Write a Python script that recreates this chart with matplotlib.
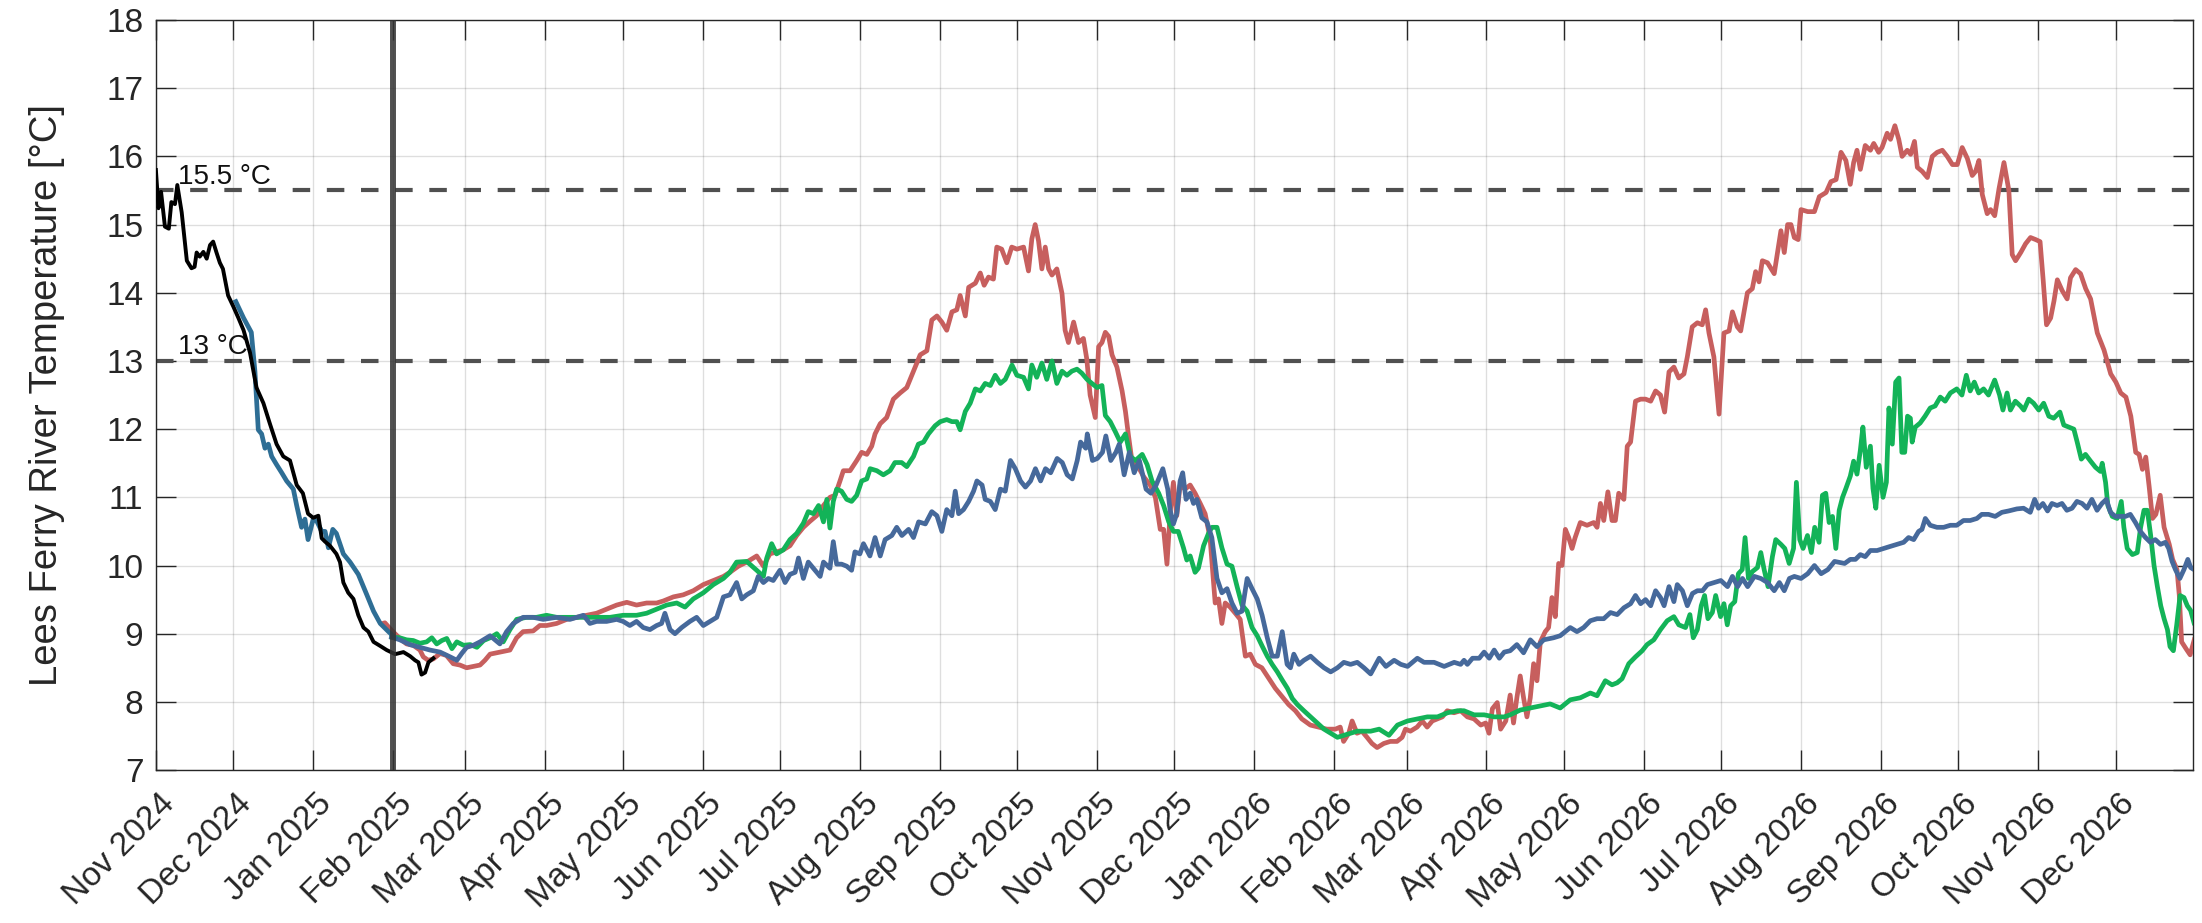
import numpy as np
import pandas as pd
import matplotlib
matplotlib.use('Agg')
import matplotlib.pyplot as plt
import matplotlib.dates as mdates
from matplotlib.transforms import ScaledTranslation

plt.rcParams['font.family'] = ['Liberation Sans', 'DejaVu Sans']

# days counted from 1 Nov 2024, temperatures in deg C
start = pd.Timestamp('2024-11-01')

obs_day = [0, 1, 2, 3.5, 5, 6, 7.4, 8.3, 10, 12, 13.8, 15, 15.8, 17, 18.4, 19.7, 21, 22.2, 23.5, 24.8,
           26, 28, 30, 32, 34, 36.5, 39, 41.7, 44.2, 46.8, 49.4, 52, 54.6, 57, 59, 61, 63, 64.3, 65.6,
           67.5, 70, 71.4, 72.7, 74.6, 76.6, 78.5, 80.5, 82.4, 84.4, 87, 89.5, 92.8, 96, 98.6, 100.5,
           101.8, 103, 104.4, 105.7, 107.6]
obs_temp = [15.8, 15.24, 15.48, 14.97, 14.94, 15.33, 15.3, 15.58, 15.18, 14.47, 14.36, 14.38, 14.59,
            14.53, 14.6, 14.5, 14.7, 14.75, 14.59, 14.44, 14.35, 13.96, 13.8, 13.63, 13.45, 13.12,
            12.61, 12.38, 12.08, 11.78, 11.6, 11.54, 11.18, 11.06, 10.76, 10.7, 10.73, 10.4, 10.35,
            10.29, 10.17, 10.05, 9.75, 9.6, 9.51, 9.27, 9.09, 9.03, 8.88, 8.82, 8.76, 8.7, 8.73,
            8.67, 8.61, 8.58, 8.4, 8.43, 8.58, 8.64]

prev_day = [31, 34, 37, 38.4, 39.7, 41, 42.3, 43.6, 44.9, 46.8, 48.8, 50.7, 53.3, 54.6, 56.5, 57.8,
            59, 61, 62.4, 64.3, 65.6, 66.9, 68.6, 70, 72.7, 75.3, 78.5, 81.8, 84.4, 87, 90.2, 92.8]
prev_temp = [13.87, 13.63, 13.42, 12.85, 11.99, 11.93, 11.72, 11.78, 11.6, 11.48, 11.36, 11.24,
             11.12, 10.88, 10.56, 10.68, 10.38, 10.68, 10.65, 10.5, 10.5, 10.26, 10.53, 10.47,
             10.17, 10.05, 9.87, 9.57, 9.33, 9.15, 9.03, 8.94]

red_day = [88, 88.8, 91.4, 94.6, 97.2, 99.8, 102.4, 103.7, 105.6, 107.6, 110.2, 112.7, 115.3, 117.9,
           120.5, 123.1, 125.7, 127.6, 129.6, 133.4, 137.3, 139.9, 142.4, 146.3, 148.9, 151.5, 155.4,
           159.3, 163.2, 167, 170.9, 174.8, 178.7, 182.6, 186.4, 190.3, 194.2, 196.8, 200.7, 204.5,
           208.4, 212.3, 216.2, 220.1, 222.6, 225.9, 229.1, 233, 235.6, 238.1, 240.7, 243.3, 245.9,
           248.5, 251.1, 253.7, 256.2, 258.9, 261.4, 263.4, 265.3, 266.6, 269.2, 271.8, 273.7, 275.7,
           277.6, 278.9, 280.9, 283.4, 286, 288.6, 291.2, 293.8, 296.4, 299, 300.9, 302.9, 304.8,
           306.7, 308.7, 310.6, 311.9, 313.9, 315.2, 317.8, 319.7, 321.2, 322.9, 324.8, 326.1, 328,
           330, 331.9, 333.9, 336.5, 338.4, 339.7, 341, 342.3, 343.6, 344.9, 346.2, 347.5, 349.4,
           351.4, 352.6, 353.9, 355.9, 357.8, 359.7, 361, 362.3, 364.3, 365.6, 366.9, 368.2, 369.5,
           370.8, 372.7, 374.7, 376, 377.2, 378.5, 380.5, 383.1, 385.6, 387.6, 389.5, 390.8, 392.1,
           393.4, 394.6, 395.9, 397.2, 399.1, 401.1, 403, 405, 406.9, 408.8, 410.8, 412.1, 413.4,
           414.7, 416.6, 418.6, 420.5, 422.5, 424.4, 426.4, 428.9, 431.5, 434.1, 436.7, 439.3, 441.9,
           444.4, 447.7, 450.9, 454.1, 457.4, 459.3, 460.6, 462.6, 463.9, 465.8, 467.7, 469.7, 471.6,
           473.6, 476.2, 478.7, 481.3, 483.3, 484.6, 486.5, 489.1, 491.1, 493, 495, 496.9, 498.9,
           500.8, 503.4, 506, 508.6, 511.2, 513.8, 515.7, 517, 518.3, 520.2, 521.5, 523.5, 525.2,
           526.5, 527.8, 529.1, 530.4, 531.7, 533, 534.3, 535.6, 536.9, 538.8, 540.1, 541.4, 542.7,
           544, 545.3, 546.6, 547.9, 549.2, 550.4, 552.4, 555, 557.6, 558.9, 560.2, 561.5, 563.1,
           564.7, 566, 567.3, 569.3, 570.6, 571.9, 573.8, 575.8, 577.7, 579.7, 581.6, 583.5, 585.1,
           586.8, 588.7, 590.6, 592.6, 593.9, 595.8, 597.8, 599.7, 601, 602.3, 604.2, 606.2, 608.1,
           610.1, 611.4, 613.3, 614.6, 615.9, 617.2, 619.1, 620.4, 621.7, 623, 625, 627.6, 628.9,
           630.2, 631.5, 632.8, 634.1, 635.4, 636.9, 638, 640.6, 643.2, 645.1, 647.7, 649.6, 651.6,
           653.5, 655.4, 657.1, 658.4, 659.7, 661, 662.9, 664.9, 666.2, 668.1, 669.4, 671.4, 672.7,
           674.4, 675.9, 677.2, 679.2, 680.5, 682, 683.1, 685, 687, 688.9, 690.8, 692.8, 694.7,
           696.7, 698.6, 700.5, 702.5, 704.4, 705.7, 707, 708.3, 710.2, 711.5, 713.1, 714.8, 716.7,
           718.6, 719.9, 721.2, 723.2, 725.1, 727, 729, 730.7, 731.9, 733.2, 734.8, 736.1, 737.4,
           739.3, 741.2, 742.5, 744.5, 746.4, 748.4, 750.3, 752.9, 755.5, 758.1, 760.1, 762, 764,
           765.9, 767.8, 769.1, 770.4, 771.7, 773, 774.3, 775.6, 777.3, 778.8, 780.8, 782.1, 783.8,
           784.7, 785.6, 787.3, 788.9, 790.5]
red_temp = [9.15, 9.16, 9.05, 8.93, 8.85, 8.83, 8.76, 8.66, 8.61, 8.63, 8.71, 8.68, 8.56, 8.54, 8.5,
            8.52, 8.54, 8.61, 8.7, 8.73, 8.76, 8.94, 9.03, 9.04, 9.12, 9.12, 9.15, 9.21, 9.24, 9.27,
            9.3, 9.36, 9.42, 9.46, 9.42, 9.45, 9.45, 9.48, 9.54, 9.57, 9.63, 9.72, 9.78, 9.84, 9.9,
            9.99, 10.05, 10.14, 9.99, 10.17, 10.2, 10.23, 10.29, 10.44, 10.56, 10.65, 10.73, 10.88,
            11.0, 11.03, 11.24, 11.39, 11.39, 11.54, 11.66, 11.63, 11.75, 11.93, 12.08, 12.17, 12.44,
            12.53, 12.61, 12.85, 13.09, 13.15, 13.6, 13.66, 13.57, 13.45, 13.72, 13.75, 13.96, 13.66,
            14.08, 14.14, 14.29, 14.11, 14.23, 14.2, 14.67, 14.64, 14.44, 14.67, 14.64, 14.67, 14.32,
            14.79, 15.0, 14.76, 14.35, 14.67, 14.35, 14.26, 14.35, 13.99, 13.45, 13.27, 13.57, 13.27,
            13.33, 13.03, 12.5, 12.17, 13.21, 13.27, 13.42, 13.36, 13.09, 12.91, 12.56, 12.26, 11.9,
            11.54, 11.48, 11.3, 11.18, 11.0, 10.53, 10.53, 10.02, 10.8, 11.22, 10.73, 11.18, 11.12,
            11.18, 11.06, 10.91, 10.76, 10.41, 9.45, 9.51, 9.15, 9.45, 9.39, 9.3, 9.21, 8.67, 8.7,
            8.55, 8.5, 8.35, 8.2, 8.08, 7.96, 7.87, 7.75, 7.66, 7.63, 7.6, 7.6, 7.63, 7.42, 7.54,
            7.72, 7.54, 7.57, 7.48, 7.39, 7.33, 7.39, 7.42, 7.42, 7.48, 7.6, 7.57, 7.63, 7.72, 7.63,
            7.72, 7.75, 7.78, 7.87, 7.84, 7.87, 7.78, 7.75, 7.66, 7.69, 7.54, 7.9, 7.99, 7.6, 7.72,
            8.1, 7.69, 8.06, 8.38, 8.06, 7.78, 8.06, 8.56, 8.31, 8.88, 9.03, 9.09, 9.53, 9.25, 10.03,
            10.0, 10.53, 10.41, 10.25, 10.41, 10.63, 10.59, 10.63, 10.56, 10.91, 10.66, 11.08, 10.66,
            10.66, 11.06, 10.97, 11.75, 11.81, 12.41, 12.44, 12.44, 12.41, 12.56, 12.5, 12.25, 12.84,
            12.91, 12.75, 12.81, 13.06, 13.5, 13.56, 13.53, 13.75, 13.41, 13.06, 12.22, 13.41, 13.44,
            13.72, 13.5, 13.44, 13.72, 14.0, 14.06, 14.31, 14.16, 14.47, 14.44, 14.28, 14.59, 14.91,
            14.59, 15.0, 15.0, 14.81, 14.78, 15.22, 15.19, 15.19, 15.41, 15.47, 15.63, 15.66, 16.06,
            15.94, 15.59, 15.91, 16.09, 15.81, 16.16, 16.09, 16.19, 16.06, 16.13, 16.34, 16.25, 16.45,
            16.25, 16.0, 16.09, 16.03, 16.22, 15.84, 15.78, 15.69, 16.0, 16.06, 16.09, 16.0, 15.88,
            15.88, 16.13, 15.97, 15.72, 15.78, 15.94, 15.44, 15.16, 15.22, 15.13, 15.53, 15.91, 15.5,
            14.56, 14.47, 14.59, 14.72, 14.81, 14.78, 14.75, 14.19, 13.53, 13.63, 13.88, 14.19, 14.03,
            13.91, 14.22, 14.34, 14.28, 14.06, 13.91, 13.41, 13.16, 12.81, 12.69, 12.53, 12.47, 12.19,
            11.66, 11.63, 11.41, 11.59, 11.16, 10.69, 10.75, 11.03, 10.56, 10.31, 10.09, 9.94, 9.56,
            8.88, 8.78, 8.69, 8.91]

green_day = [91.4, 94.6, 97.2, 99.8, 102.4, 105, 107, 108.9, 110.9, 112.8, 114.8, 116.7, 119.3, 121.9,
             124.5, 127.1, 129.6, 132.2, 134.7, 137.3, 139.9, 143.7, 147.6, 151.5, 155.4, 160.6,
             165.8, 170.9, 176.1, 181.2, 186.4, 190.3, 194.2, 198.1, 202, 205.2, 208.4, 212.3, 216.2,
             220.1, 222.6, 225.2, 229.1, 233, 235.6, 236.9, 238.8, 240.7, 243.3, 245.9, 248.5, 251.1,
             253, 255, 257, 258.9, 260.2, 261.4, 262.7, 264, 265.9, 267.9, 269.8, 271.8, 273.7, 275.7,
             277, 279.6, 282.1, 284.7, 286.6, 289.2, 291.2, 293.8, 295.7, 297.7, 299.6, 302.2, 304.2,
             306.7, 308.7, 310.6, 311.9, 313.9, 315.8, 317.8, 319.7, 321.6, 323.6, 325.5, 327.5,
             329.4, 332, 333.9, 336.5, 338.4, 339.7, 341.6, 343.6, 345.5, 347.5, 349.4, 351.4, 353.3,
             355.2, 357.2, 359.1, 361.1, 363, 365, 366.9, 368.2, 370.1, 372.1, 374, 376, 377.9, 379.9,
             382.5, 384.4, 386.3, 388.9, 390.8, 392.8, 394.6, 396.5, 398.5, 399.8, 401.1, 403, 404.3,
             406.3, 408.2, 409.5, 411.5, 413.4, 415.4, 417.3, 419.3, 421.2, 423.2, 425.1, 427.1, 429,
             431, 432.9, 434.9, 436.8, 438.8, 440.7, 442.7, 445.2, 447.8, 450.4, 453, 455.6, 458.2,
             460.7, 463.3, 465.9, 468.5, 471.1, 474.4, 478.2, 481.5, 485.4, 489.3, 493.1, 497, 500.9,
             504.8, 507.3, 511.2, 515.1, 519, 522.9, 525.2, 529.1, 533, 536.9, 540.7, 544.6, 548.5,
             552.4, 556.3, 558.9, 562.1, 564.7, 566.7, 568.6, 571.2, 573.8, 576.4, 578.3, 580.9,
             583.5, 586.1, 588.7, 590.6, 593.2, 594.9, 596.2, 597.8, 599.3, 600.6, 601.9, 603.6,
             604.9, 606.8, 608.1, 609.4, 610.7, 612.3, 613.7, 615.2, 616.3, 617.6, 619.1, 621.1,
             622.4, 623.7, 625.2, 626.9, 628.2, 630.2, 631.7, 633.4, 635.1, 636.2, 637.5, 638.8,
             640.5, 642, 643.3, 645, 646.3, 647.6, 648.9, 650.2, 651.5, 652.8, 654.1, 655.4, 657.1,
             658.4, 659.7, 661, 662, 663.3, 664.9, 665.9, 667, 668.3, 669.8, 671.1, 672.1, 673.4,
             674.7, 676, 677.1, 678.2, 679.3, 680.4, 681.1, 682.3, 684.2, 686.1, 688.1, 690, 692,
             693.9, 695.9, 698.4, 700.4, 702.1, 703.6, 705.2, 706.9, 708.8, 710.7, 713.1, 715, 716.3,
             717.9, 719.2, 721.1, 723.1, 724.4, 726.3, 728.2, 730.2, 732.1, 734.1, 736, 738.4, 739.9,
             741.9, 743.8, 745.1, 746.7, 748.3, 750.3, 752.2, 754.1, 754.8, 756.1, 757, 758.7, 760.6,
             762.2, 763.2, 764.5, 766.5, 768.4, 769.7, 771, 772.3, 773.6, 774.9, 776.2, 777.5, 778.8,
             780.1, 781.1, 782.4, 783.7, 785, 786.5, 787.8, 789.1, 790.4]
green_temp = [8.95, 8.94, 8.91, 8.9, 8.86, 8.88, 8.94, 8.85, 8.9, 8.93, 8.78, 8.88, 8.83, 8.84, 8.8,
              8.9, 8.94, 9.0, 8.88, 9.06, 9.21, 9.24, 9.24, 9.27, 9.24, 9.24, 9.24, 9.24, 9.24, 9.27,
              9.27, 9.3, 9.36, 9.42, 9.45, 9.39, 9.51, 9.6, 9.72, 9.81, 9.9, 10.05, 10.06, 9.93, 9.84,
              10.11, 10.32, 10.17, 10.23, 10.38, 10.47, 10.62, 10.79, 10.76, 10.88, 10.64, 10.97,
              10.55, 10.94, 11.12, 11.09, 10.97, 10.94, 11.03, 11.24, 11.27, 11.42, 11.39, 11.33,
              11.39, 11.51, 11.51, 11.45, 11.6, 11.78, 11.81, 11.93, 12.05, 12.11, 12.14, 12.11,
              12.11, 11.99, 12.26, 12.38, 12.59, 12.56, 12.67, 12.64, 12.79, 12.67, 12.73, 12.94,
              12.79, 12.76, 12.59, 12.94, 12.76, 12.97, 12.73, 13.0, 12.67, 12.85, 12.79, 12.85,
              12.88, 12.82, 12.73, 12.67, 12.61, 12.64, 12.2, 12.11, 11.96, 11.81, 11.93, 11.6, 11.54,
              11.63, 11.48, 11.24, 11.06, 10.88, 10.64, 10.5, 10.5, 10.26, 10.08, 10.14, 9.9, 9.96,
              10.29, 10.47, 10.56, 10.56, 10.26, 10.02, 9.99, 9.69, 9.42, 9.33, 9.09, 8.97, 8.82,
              8.67, 8.55, 8.44, 8.32, 8.2, 8.05, 7.96, 7.87, 7.78, 7.69, 7.6, 7.54, 7.48, 7.51, 7.54,
              7.57, 7.57, 7.57, 7.6, 7.51, 7.66, 7.72, 7.75, 7.78, 7.78, 7.84, 7.87, 7.87, 7.81, 7.81,
              7.78, 7.78, 7.81, 7.88, 7.91, 7.94, 7.97, 7.91, 8.03, 8.06, 8.13, 8.09, 8.31, 8.25,
              8.28, 8.34, 8.56, 8.66, 8.75, 8.84, 8.91, 9.06, 9.19, 9.25, 9.13, 9.09, 9.28, 8.94,
              9.06, 9.41, 9.56, 9.22, 9.31, 9.56, 9.25, 9.44, 9.13, 9.41, 9.47, 9.88, 9.94, 10.41,
              9.81, 9.91, 9.97, 10.19, 9.94, 9.69, 10.13, 10.38, 10.31, 10.25, 10.03, 10.25, 11.22,
              10.38, 10.25, 10.44, 10.19, 10.56, 10.34, 11.03, 11.06, 10.63, 10.72, 10.25, 10.81,
              11.0, 11.13, 11.31, 11.53, 11.34, 11.69, 12.03, 11.44, 11.75, 11.13, 10.84, 11.47, 11.0,
              11.22, 12.31, 11.78, 12.69, 12.75, 11.66, 11.66, 12.19, 12.16, 11.81, 12.03, 12.09,
              12.19, 12.31, 12.34, 12.47, 12.41, 12.53, 12.59, 12.5, 12.79, 12.56, 12.69, 12.53,
              12.59, 12.5, 12.72, 12.5, 12.28, 12.53, 12.28, 12.41, 12.34, 12.28, 12.44, 12.38,
              12.28, 12.38, 12.19, 12.16, 12.25, 12.06, 12.03, 12.0, 11.81, 11.56, 11.63, 11.53,
              11.44, 11.38, 11.5, 11.22, 10.88, 10.72, 10.69, 10.94, 10.56, 10.25, 10.16, 10.19,
              10.56, 10.81, 10.81, 10.44, 10.0, 9.69, 9.41, 9.22, 9.06, 8.81, 8.75, 9.13, 9.56, 9.53,
              9.41, 9.34, 9.16]

blue_day = [91.4, 94.6, 98.5, 102.4, 106.3, 110.2, 114.1, 116.7, 118.6, 120.5, 123.1, 125.7, 128.3,
            129.6, 133.4, 136, 138.6, 142.4, 146.3, 150.2, 155.4, 160.6, 165.8, 168.3, 170.9, 174.8,
            178.7, 181.2, 183.8, 186.4, 189, 191.6, 194.2, 196.1, 197.4, 199.4, 201.3, 203.9, 207.1,
            209.7, 212.3, 214.9, 217.5, 220.1, 222.6, 225.2, 227.2, 229.1, 231.7, 233.6, 235.6,
            237.5, 239.4, 242, 244, 245.9, 247.9, 249.2, 251.1, 253, 255.6, 257.6, 258.9, 261.4,
            262.7, 264, 265.9, 267.9, 269.8, 271.1, 273, 274.4, 276.9, 278.9, 280.9, 282.8, 285.4,
            287.3, 289.3, 291.9, 293.8, 295.8, 298.4, 300.9, 302.9, 304.8, 306.7, 308.7, 310, 311.3,
            313.2, 315.2, 317.1, 318.4, 320.4, 321.6, 323.6, 325.5, 327.5, 329.4, 331.4, 333.3,
            335.3, 337.2, 339.2, 341.1, 343.1, 345, 347, 349.5, 351.5, 353.4, 355.4, 357.3, 358.6,
            360.6, 361.2, 363.2, 365.1, 367.1, 368.4, 370.3, 372.3, 373.6, 375.5, 377.5, 379.4,
            381.4, 384, 385.9, 387.9, 390.5, 392.4, 393.3, 394.6, 395.9, 397.2, 398.2, 399.5, 401.1,
            402.4, 403.7, 405.6, 407.6, 409.5, 411.5, 413.4, 415.4, 417.3, 419.3, 421.2, 423.2,
            425.1, 427.1, 429, 431, 432.9, 434.9, 436.8, 438.7, 440, 441.3, 443.3, 445.2, 447.8,
            450.4, 453, 455.6, 458.2, 460.7, 463.3, 465.9, 468.5, 471.1, 474.4, 477, 480.2, 482.8,
            485.4, 489.2, 491.8, 495.7, 499.6, 503.5, 506, 507.3, 508.6, 510.6, 513.2, 515.1, 517.1,
            519, 521, 522.9, 525.2, 527.8, 530.4, 533, 535.6, 538.2, 542, 544.6, 548.5, 551.1, 553.7,
            556.3, 558.9, 561.5, 564.1, 566.7, 569.3, 571.9, 573.8, 575.8, 577.7, 579.7, 581.6,
            583.5, 584.9, 586.8, 588.7, 590, 592, 593.9, 595.9, 597.8, 599.8, 601.7, 604.3, 606.9,
            609.5, 611.4, 613.4, 615.3, 617.3, 619.9, 622.4, 625, 627.6, 629.6, 631.5, 633.5, 635.4,
            638, 640.6, 643.2, 645.8, 648.4, 651, 654.9, 657.1, 659.1, 661, 662.9, 664.9, 667.5, 670,
            672.6, 675.2, 677.8, 679.7, 681.7, 683.6, 684.9, 686.2, 688.1, 690.7, 693.3, 695.9,
            698.4, 701, 703.6, 706.2, 708.1, 710.7, 713.3, 715.9, 718.5, 721.7, 724.3, 726.9, 728.6,
            730.1, 731.8, 733.6, 735.3, 737.3, 739.2, 741.1, 743.1, 745, 747, 748.9, 750.8, 752.8,
            754.7, 756.4, 758, 759.9, 761.8, 763.8, 765.7, 767.7, 769.6, 771.6, 773.5, 775.4, 777.4,
            779.3, 780.6, 781.9, 783.2, 784.9, 786.5, 788, 789.1, 790.4]
blue_temp = [8.95, 8.91, 8.84, 8.8, 8.76, 8.73, 8.66, 8.61, 8.71, 8.8, 8.83, 8.88, 8.94, 8.97, 8.85,
             9.03, 9.15, 9.24, 9.24, 9.21, 9.24, 9.21, 9.27, 9.15, 9.18, 9.18, 9.21, 9.18, 9.12, 9.18,
             9.09, 9.06, 9.12, 9.15, 9.3, 9.06, 9.0, 9.09, 9.18, 9.24, 9.12, 9.18, 9.24, 9.54, 9.57,
             9.75, 9.51, 9.57, 9.63, 9.84, 9.75, 9.81, 9.78, 9.93, 9.75, 9.87, 9.9, 10.11, 9.81,
             10.05, 9.93, 9.84, 10.05, 9.96, 10.35, 10.02, 10.02, 9.99, 9.93, 10.2, 10.17, 10.32,
             10.14, 10.41, 10.14, 10.38, 10.44, 10.56, 10.44, 10.53, 10.41, 10.64, 10.61, 10.79,
             10.73, 10.5, 10.82, 10.73, 11.09, 10.76, 10.82, 10.94, 11.09, 11.24, 11.18, 10.97, 10.94,
             10.82, 11.12, 11.09, 11.54, 11.42, 11.24, 11.15, 11.24, 11.42, 11.24, 11.42, 11.36,
             11.57, 11.51, 11.33, 11.27, 11.54, 11.81, 11.72, 11.93, 11.54, 11.57, 11.66, 11.9, 11.54,
             11.66, 11.78, 11.33, 11.66, 11.36, 11.54, 11.12, 11.06, 11.18, 11.42, 11.12, 10.82,
             10.61, 10.76, 11.24, 11.36, 10.97, 11.06, 10.91, 10.97, 10.7, 10.64, 10.41, 9.81, 9.6,
             9.66, 9.45, 9.3, 9.33, 9.81, 9.66, 9.51, 9.27, 8.94, 8.67, 8.67, 9.03, 8.55, 8.5, 8.7,
             8.55, 8.61, 8.67, 8.58, 8.5, 8.44, 8.5, 8.58, 8.55, 8.58, 8.5, 8.41, 8.64, 8.52, 8.61,
             8.55, 8.52, 8.64, 8.58, 8.58, 8.52, 8.58, 8.55, 8.61, 8.55, 8.64, 8.64, 8.73, 8.64, 8.76,
             8.64, 8.73, 8.75, 8.84, 8.72, 8.91, 8.81, 8.91, 8.94, 8.97, 9.09, 9.03, 9.09, 9.19, 9.22,
             9.22, 9.31, 9.28, 9.38, 9.44, 9.56, 9.44, 9.5, 9.41, 9.63, 9.53, 9.41, 9.69, 9.47, 9.72,
             9.63, 9.41, 9.59, 9.63, 9.63, 9.72, 9.75, 9.78, 9.69, 9.84, 9.69, 9.81, 9.69, 9.84, 9.81,
             9.75, 9.63, 9.75, 9.63, 9.81, 9.84, 9.81, 9.88, 10.0, 9.88, 9.94, 10.06, 10.03, 10.09,
             10.09, 10.16, 10.13, 10.22, 10.22, 10.25, 10.28, 10.31, 10.34, 10.41, 10.38, 10.5,
             10.53, 10.69, 10.59, 10.56, 10.56, 10.59, 10.59, 10.66, 10.66, 10.69, 10.75, 10.75,
             10.72, 10.78, 10.8, 10.83, 10.84, 10.78, 10.97, 10.84, 10.91, 10.8, 10.91, 10.88, 10.91,
             10.81, 10.84, 10.94, 10.91, 10.84, 10.97, 10.81, 10.91, 10.97, 10.78, 10.72, 10.72,
             10.72, 10.75, 10.63, 10.5, 10.41, 10.34, 10.38, 10.31, 10.34, 10.25, 10.06, 9.94, 9.81,
             9.94, 10.09, 9.97, 9.94]

thresholds = [15.5, 13.0]
threshold_labels = ['15.5 °C', '13 °C']
forecast_start = pd.Timestamp('2025-02-01')
month_ticks = pd.date_range('2024-11-01', '2026-12-01', freq='MS')


def to_dates(days):
    return start + pd.to_timedelta(np.array(days), unit='D')


fig = plt.figure(figsize=(22.02, 9.23), dpi=100)
ax = fig.add_axes([0.0708, 0.1657, 0.9251, 0.8126])

for thr, lab in zip(thresholds, threshold_labels):
    ax.axhline(thr, color='#505050', lw=3.0, dashes=(4.2, 4.0), zorder=2)
    ax.text(to_dates([8.5])[0], thr + 0.1, lab, fontsize=20, color='#111111',
            ha='left', va='baseline', zorder=1)

ax.plot(to_dates(red_day), red_temp, color='#c75f5e', lw=3.4, zorder=3)
ax.plot(to_dates(green_day), green_temp, color='#13b358', lw=3.4, zorder=4)
ax.plot(to_dates(blue_day), blue_temp, color='#46699b', lw=3.4, zorder=5)
ax.plot(to_dates(prev_day), prev_temp, color='#2e6e95', lw=3.4, zorder=5)
ax.plot(to_dates(obs_day), obs_temp, color='black', lw=2.8, zorder=6)

ax.axvline(forecast_start, color='#333333', lw=4.3, alpha=0.85, zorder=7)

ax.set_xlim(start, pd.Timestamp('2026-12-31'))
ax.set_ylim(7, 18)
ax.set_yticks(range(7, 19))
ax.set_xticks(month_ticks)
ax.set_xticklabels([d.strftime('%b %Y') for d in month_ticks], rotation=45,
                   ha='right', va='center', rotation_mode='anchor')
ax.set_ylabel('Lees Ferry River Temperature [°C]', fontsize=27.5, color='#262626', labelpad=30)

ax.grid(True, color='#262626', alpha=0.15, lw=1.0)
ax.set_axisbelow(True)
ax.tick_params(axis='both', which='major', direction='in', length=14.5, width=1.0,
               color='#262626', labelcolor='#262626', labelsize=24,
               top=True, right=True)
ax.tick_params(axis='x', pad=21)
ax.tick_params(axis='y', pad=9)
for lbl in ax.get_xticklabels():
    lbl.set_transform(lbl.get_transform() + ScaledTranslation(0.14, 0, fig.dpi_scale_trans))
for sp in ax.spines.values():
    sp.set_color('#262626')
    sp.set_linewidth(1.0)

fig.savefig('out.png', dpi=100)
